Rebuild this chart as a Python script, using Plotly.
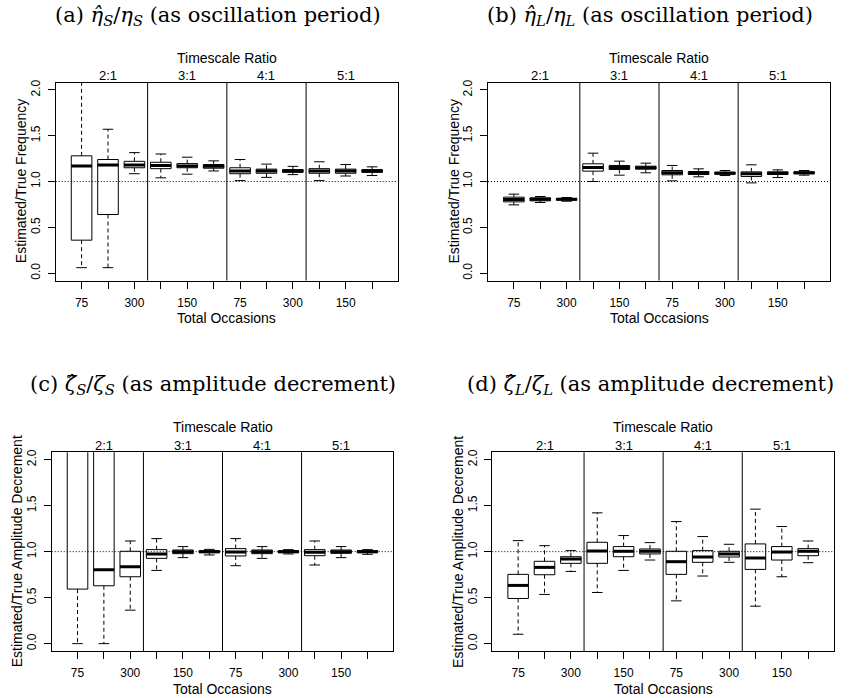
import plotly.graph_objects as go

# ---------------- data ----------------
ratios = ["2:1", "3:1", "4:1", "5:1"]
occasions = ["75", "150", "300"]
# R drops every second occasion label because they would overlap
box_labels = occasions * len(ratios)

# panel (a)  eta_S hat / eta_S
a_low  = [0.06, 0.06, 1.085, 1.04, 1.08, 1.115, 1.01, 1.045, 1.075, 1.01, 1.06, 1.065]
a_q1   = [0.36, 0.64, 1.15, 1.14, 1.15, 1.145, 1.085, 1.09, 1.10, 1.09, 1.09, 1.10]
a_med  = [1.17, 1.18, 1.18, 1.175, 1.17, 1.165, 1.115, 1.115, 1.115, 1.115, 1.115, 1.115]
a_q3   = [1.28, 1.24, 1.22, 1.21, 1.195, 1.185, 1.15, 1.135, 1.13, 1.14, 1.135, 1.13]
a_high = [2.60, 1.57, 1.315, 1.30, 1.265, 1.225, 1.24, 1.19, 1.165, 1.215, 1.185, 1.16]

# panel (b)  eta_L hat / eta_L
b_low  = [0.745, 0.771, 0.785, 1.00, 1.069, 1.095, 1.007, 1.051, 1.065, 0.985, 1.044, 1.069]
b_q1   = [0.778, 0.789, 0.796, 1.113, 1.131, 1.135, 1.073, 1.076, 1.080, 1.055, 1.076, 1.084]
b_med  = [0.804, 0.807, 0.805, 1.153, 1.153, 1.149, 1.095, 1.091, 1.091, 1.084, 1.091, 1.095]
b_q3   = [0.829, 0.822, 0.815, 1.193, 1.175, 1.167, 1.120, 1.109, 1.102, 1.105, 1.105, 1.105]
b_high = [0.862, 0.836, 0.825, 1.309, 1.222, 1.200, 1.175, 1.138, 1.120, 1.182, 1.127, 1.120]

# panel (c)  zeta_S hat / zeta_S
c_low  = [0.0, 0.0, 0.364, 0.796, 0.935, 0.964, 0.847, 0.927, 0.975, 0.855, 0.935, 0.971]
c_q1   = [0.593, 0.629, 0.727, 0.927, 0.978, 0.989, 0.953, 0.978, 0.989, 0.956, 0.982, 0.989]
c_med  = [2.30, 0.804, 0.836, 0.975, 1.000, 1.000, 0.996, 1.000, 1.000, 0.993, 1.000, 1.000]
c_q3   = [3.00, 2.60, 1.004, 1.022, 1.018, 1.011, 1.033, 1.018, 1.011, 1.022, 1.018, 1.011]
c_high = [5.00, 4.00, 1.116, 1.142, 1.055, 1.025, 1.142, 1.055, 1.022, 1.116, 1.055, 1.022]

# panel (d)  zeta_L hat / zeta_L
d_low  = [0.102, 0.535, 0.785, 0.556, 0.796, 0.909, 0.465, 0.735, 0.884, 0.407, 0.727, 0.880]
d_q1   = [0.491, 0.749, 0.873, 0.873, 0.945, 0.975, 0.753, 0.884, 0.942, 0.807, 0.909, 0.956]
d_med  = [0.633, 0.829, 0.920, 1.007, 1.004, 1.004, 0.891, 0.942, 0.975, 0.931, 0.996, 1.004]
d_q3   = [0.753, 0.895, 0.945, 1.102, 1.055, 1.029, 1.004, 1.011, 1.004, 1.084, 1.055, 1.033]
d_high = [1.120, 1.065, 1.011, 1.422, 1.175, 1.098, 1.327, 1.164, 1.080, 1.462, 1.273, 1.116]

titles = [
    "(a) <i>η̂</i><sub><i>S</i></sub>/<i>η</i><sub><i>S</i></sub> (as oscillation period)",
    "(b) <i>η̂</i><sub><i>L</i></sub>/<i>η</i><sub><i>L</i></sub> (as oscillation period)",
    "(c) <i>ζ̂</i><sub><i>S</i></sub>/<i>ζ</i><sub><i>S</i></sub> (as amplitude decrement)",
    "(d) <i>ζ̂</i><sub><i>L</i></sub>/<i>ζ</i><sub><i>L</i></sub> (as amplitude decrement)",
]
ylabels = ["Estimated/True Frequency", "Estimated/True Frequency",
           "Estimated/True Amplitude Decrement", "Estimated/True Amplitude Decrement"]

panels = [
    (a_low, a_q1, a_med, a_q3, a_high),
    (b_low, b_q1, b_med, b_q3, b_high),
    (c_low, c_q1, c_med, c_q3, c_high),
    (d_low, d_q1, d_med, d_q3, d_high),
]

# ---------------- layout geometry ----------------
W, H = 849, 698
xdoms = [(55.7, 398.0), (488.0, 830.0), (51.7, 393.3), (492.3, 834.0)]
ydoms = [(82.5, 280.5), (82.5, 280.5), (452.3, 651.0), (452.3, 651.0)]
title_pos = [(218.0, 16), (650.0, 16), (213.0, 385), (650.7, 385)]

SANS = "Liberation Sans, Arial, sans-serif"
SERIF = "DejaVu Serif, serif"

fig = go.Figure()
positions = list(range(1, len(box_labels) + 1))
shown_pos = positions[::2]
shown_txt = box_labels[::2]
HW, CW = 0.39, 0.2

for k, (low, q1, med, q3, high) in enumerate(panels):
    xa = "x" if k == 0 else f"x{k+1}"
    ya = "y" if k == 0 else f"y{k+1}"
    bx, by, wx, wy, cx, cy, mx, my = [], [], [], [], [], [], [], []
    for p, lo, a, m, b, hi in zip(positions, low, q1, med, q3, high):
        bx += [p - HW, p + HW, p + HW, p - HW, p - HW, None]
        by += [a, a, b, b, a, None]
        wx += [p, p, None, p, p, None]
        wy += [b, hi, None, a, lo, None]
        cx += [p - CW, p + CW, None, p - CW, p + CW, None]
        cy += [hi, hi, None, lo, lo, None]
        mx += [p - HW, p + HW, None]
        my += [m, m, None]
    fig.add_trace(go.Scatter(x=wx, y=wy, mode="lines", xaxis=xa, yaxis=ya,
                             line=dict(color="black", width=1, dash="4px,3px"), hoverinfo="skip"))
    fig.add_trace(go.Scatter(x=cx, y=cy, mode="lines", xaxis=xa, yaxis=ya,
                             line=dict(color="black", width=1), hoverinfo="skip"))
    fig.add_trace(go.Scatter(x=bx, y=by, mode="lines", xaxis=xa, yaxis=ya, fill="toself",
                             fillcolor="white", line=dict(color="black", width=1), hoverinfo="skip"))
    fig.add_trace(go.Scatter(x=mx, y=my, mode="lines", xaxis=xa, yaxis=ya,
                             line=dict(color="black", width=3), hoverinfo="skip"))

    x0, x1 = xdoms[k]
    yt, yb = ydoms[k]
    xkey = "xaxis" if k == 0 else f"xaxis{k+1}"
    ykey = "yaxis" if k == 0 else f"yaxis{k+1}"
    fig.update_layout({
        xkey: dict(domain=[x0 / W, x1 / W], anchor=ya, range=[0.02, 12.98],
                   automargin=False, fixedrange=True,
                   tickvals=shown_pos, ticktext=shown_txt, ticks="outside", ticklen=7,
                   tickcolor="black",
                   minor=dict(tickvals=positions, ticks="outside", ticklen=7,
                              tickcolor="black", showgrid=False),
                   showline=True, mirror=True, linecolor="black",
                   linewidth=1, showgrid=False, zeroline=False,
                   tickfont=dict(family=SANS, size=12, color="black"), ticklabelstandoff=4),
        ykey: dict(domain=[1 - yb / H, 1 - yt / H], anchor=xa,
                   range=[-0.08, 2.08], automargin=False, fixedrange=True,
                   tickvals=[0, 0.5, 1.0, 1.5, 2.0],
                   ticktext=["0.0", "0.5", "1.0", "1.5", "2.0"], tickangle=-90,
                   ticks="outside", ticklen=7, tickcolor="black", showline=True,
                   mirror=True, linecolor="black", linewidth=1, showgrid=False,
                   zeroline=False, tickfont=dict(family=SANS, size=12, color="black"),
                   ticklabelstandoff=3),
    })
    # reference line at 1 and group separators
    fig.add_shape(type="line", xref=f"{xa} domain", yref=ya, x0=0, x1=1, y0=1, y1=1,
                  line=dict(color="black", width=1, dash="1px,2px"), layer="above")
    for g in range(1, len(ratios)):
        sx = g * len(occasions) + 0.5
        fig.add_shape(type="line", xref=xa, yref=f"{ya} domain", x0=sx, x1=sx, y0=0, y1=1,
                      line=dict(color="black", width=1), layer="above")
    # group labels on top
    for g, r in enumerate(ratios):
        fig.add_annotation(text=r, xref=xa, yref=f"{ya} domain", x=g * len(occasions) + 2,
                           y=1, yanchor="middle", yshift=7, showarrow=False,
                           font=dict(family=SANS, size=13, color="black"))
    fig.add_annotation(text="Timescale Ratio", xref=f"{xa} domain", yref=f"{ya} domain",
                       x=0.5, y=1, yanchor="middle", yshift=25, showarrow=False,
                       font=dict(family=SANS, size=14, color="black"))
    fig.add_annotation(text="Total Occasions", xref=f"{xa} domain", yref=f"{ya} domain",
                       x=0.5, y=0, yanchor="middle", yshift=-37.5, showarrow=False,
                       font=dict(family=SANS, size=14, color="black"))
    fig.add_annotation(text=ylabels[k], xref=f"{xa} domain", yref=f"{ya} domain",
                       x=0, y=0.5, xanchor="center", xshift=-35, textangle=-90,
                       showarrow=False, font=dict(family=SANS, size=14, color="black"))
    tx, ty = title_pos[k]
    fig.add_annotation(text=titles[k], xref="paper", yref="paper",
                       x=tx / W, y=1 - ty / H,
                       xanchor="center", yanchor="middle", showarrow=False,
                       font=dict(family=SERIF, size=21, color="black"))

fig.update_layout(width=W, height=H, autosize=False, showlegend=False,
                  margin=dict(l=0, r=0, t=0, b=0, autoexpand=False),
                  paper_bgcolor="white", plot_bgcolor="white")

# remove the browser's default 8px body margin so the figure sits at the page origin
fig.write_html("out.html", config={"displayModeBar": False, "staticPlot": True},
               post_script="document.body.style.margin='0px';document.body.style.overflow='hidden';")
